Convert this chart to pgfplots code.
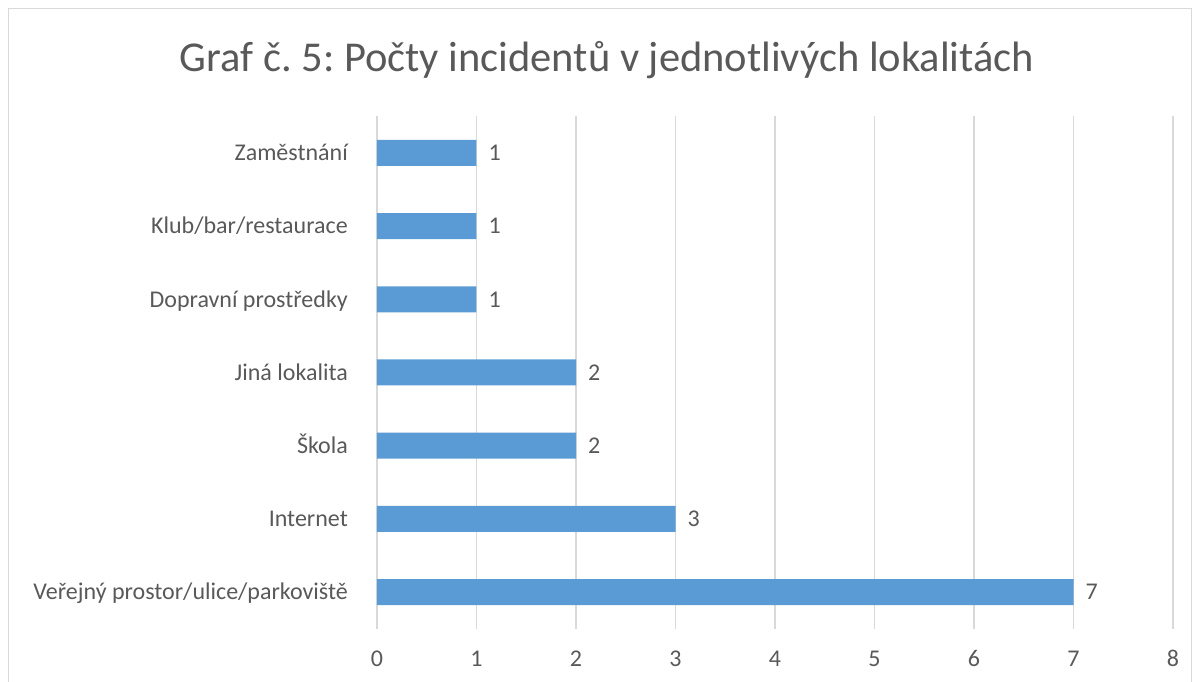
\documentclass[border=0pt]{standalone}
\usepackage{pgfplots}
\pgfplotsset{compat=1.18}
\usepackage{fontspec}
\setmainfont{Carlito}
\frenchspacing
\definecolor{barc}{HTML}{5B9BD5}
\definecolor{txt}{HTML}{595959}
\definecolor{grd}{HTML}{D9D9D9}
\begin{document}
\begin{tikzpicture}[x=1pt,y=1pt]
\useasboundingbox (0,0) rectangle (1200,682);
\draw[grd, line width=1.3pt] (8.5,-20) rectangle (1191.5,673.5);
\node[txt, anchor=base, inner sep=0pt, font=\fontsize{42.5}{50}\selectfont] at (607,610.5) {Graf č. 5: Počty incidentů v jednotlivých lokalitách};
\begin{axis}[
  at={(377pt,53.4pt)}, anchor=south west,
  width=796pt, height=512.2pt, scale only axis,
  xbar, bar width=26pt,
  xmin=0, xmax=8, ymin=-0.5, ymax=6.5,
  xtick={0,1,2,3,4,5,6,7,8},
  ytick={0,1,2,3,4,5,6},
  yticklabels={Veřejný prostor/ulice/parkoviště, Internet, Škola, Jiná lokalita, Dopravní prostředky, Klub/bar/restaurace, Zaměstnání},
  axis line style={draw=none},
  major tick length=0pt,
  xmajorgrids, grid style={grd, line width=1.4pt},
  /pgf/number format/assume math mode=true,
  tick label style={font=\fontsize{24}{28}\selectfont, text=txt, inner sep=0pt},
  yticklabel style={anchor=base east, xshift=-29pt, yshift=-7.7pt},
  xticklabel style={anchor=base, yshift=-38.4pt},
  nodes near coords,
  nodes near coords style={anchor=west, inner sep=0pt, xshift=12pt, font=\fontsize{24}{28}\selectfont, text=txt},
]
\addplot[fill=barc, draw=none] coordinates {(7,0) (3,1) (2,2) (2,3) (1,4) (1,5) (1,6)};
\end{axis}
\end{tikzpicture}
\end{document}
